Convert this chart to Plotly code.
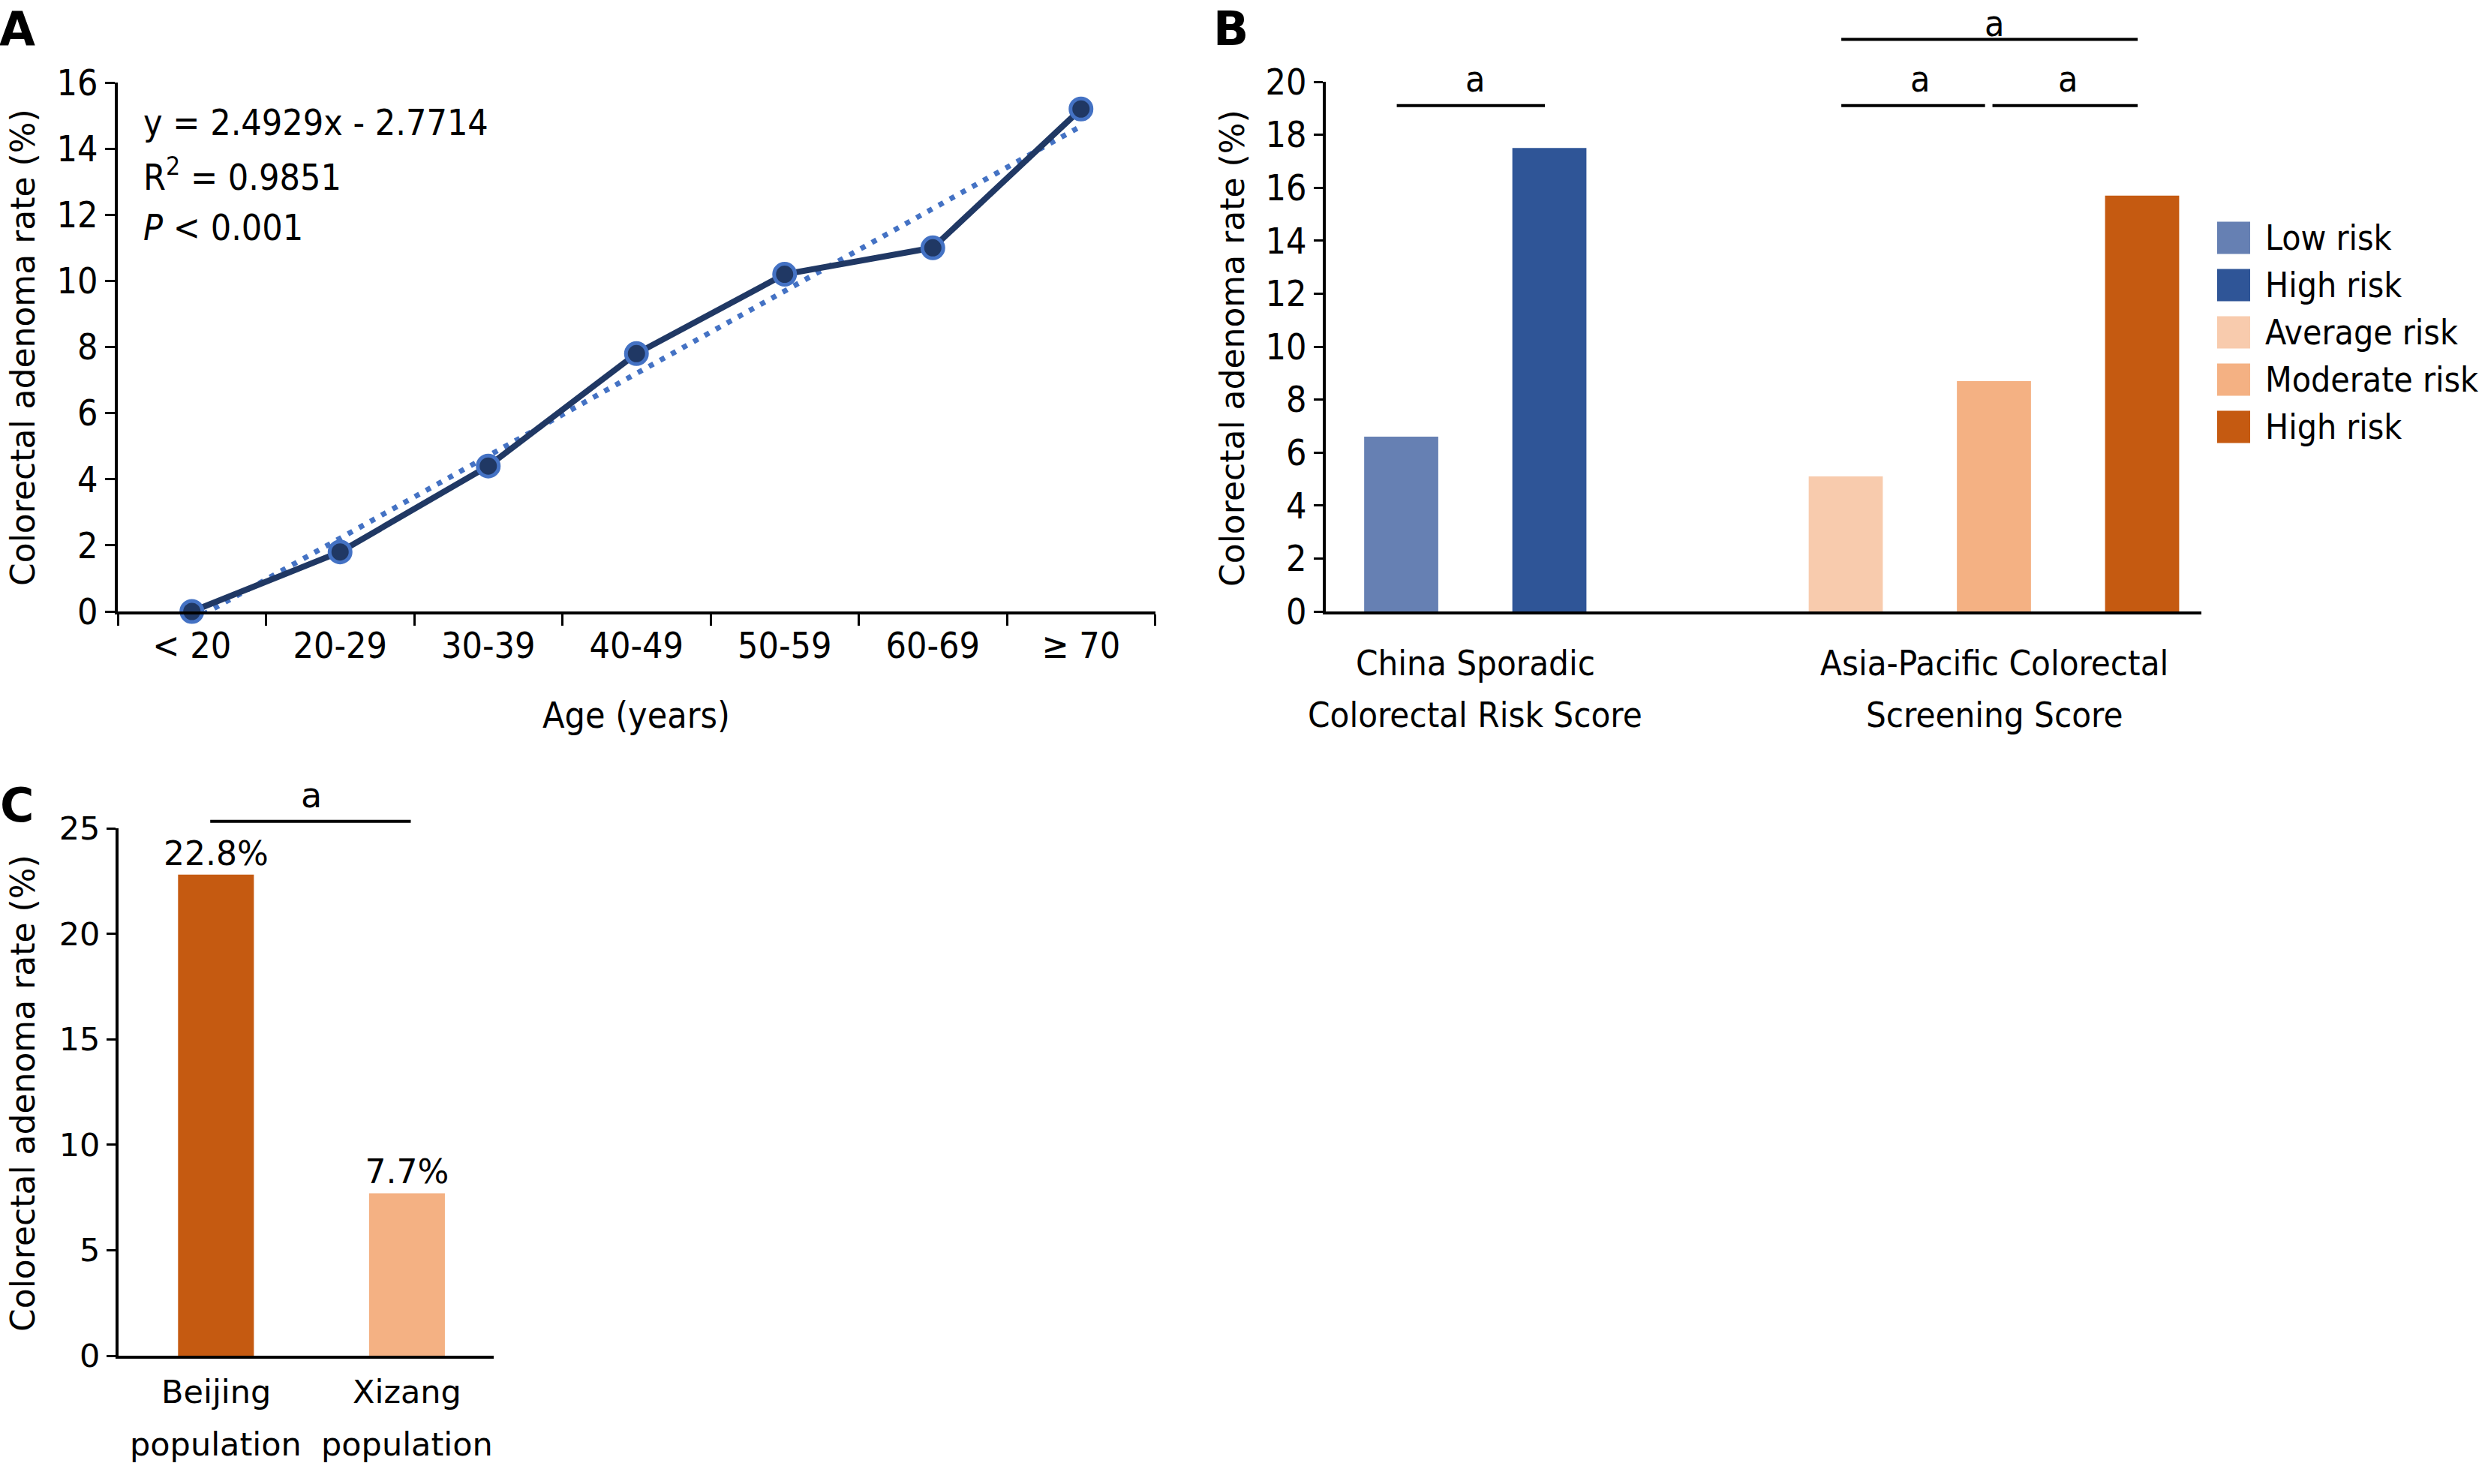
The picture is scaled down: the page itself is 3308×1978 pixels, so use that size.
import numpy as np
import plotly.graph_objects as go

W, H = 3308, 1978

# ---------------- data ----------------
age_groups = ["< 20", "20-29", "30-39", "40-49", "50-59", "60-69", "≥ 70"]
age_rates = [0.0, 1.8, 4.4, 7.8, 10.2, 11.0, 15.2]
fit_lines = ["y = 2.4929x - 2.7714", "R<sup>2</sup> = 0.9851", "<i>P</i> &lt; 0.001"]

score_groups = [["China Sporadic", "Colorectal Risk Score"],
                ["Asia-Pacific Colorectal", "Screening Score"]]
risk_labels = ["Low risk", "High risk", "Average risk", "Moderate risk", "High risk"]
risk_group = [0, 0, 1, 1, 1]
risk_rates = [6.6, 17.5, 5.1, 8.7, 15.7]
risk_colors = ["#6680B3", "#2F5597", "#F8CBAD", "#F4B183", "#C55A11"]
# significance brackets: (left bar index, right bar index, level)
risk_brackets = [(0, 1, 0), (2, 3, 0), (3, 4, 0), (2, 4, 1)]

pop_labels = [["Beijing", "population"], ["Xizang", "population"]]
pop_rates = [22.8, 7.7]
pop_colors = ["#C55A11", "#F4B183"]
pop_brackets = [(0, 1)]

# ---------------- helpers ----------------
def px(x):
    return x / W

def py(y):
    return 1 - y / H

TAH = "DejaVu Sans Condensed, DejaVu Sans, sans-serif"
VER = "DejaVu Sans, sans-serif"
BLACK = "#000000"

# domains (pixel boxes)
A_X = (157, 1539.5); A_Y = (815, 110)
B_X = (1767, 2934);  B_Y = (815, 109)
C_X = (158, 658);    C_Y = (1807, 1104)

A_YMAX, B_YMAX, C_YMAX = 16, 20, 25
B_RANGE = [-0.509, 5.40]
C_RANGE = [-0.51, 1.454]

def y2paper(v, dom, ymax):
    y0 = py(dom[0]); y1 = py(dom[1])
    return y0 + (v / ymax) * (y1 - y0)

# bar slots in panel B: consecutive within a group, one empty slot between groups
b_slots = [i + g for i, g in enumerate(risk_group)]

fig = go.Figure()

# ---------------- panel A ----------------
xnum = np.arange(1, len(age_rates) + 1)
coef = np.polyfit(xnum, age_rates, 1)
trend = np.polyval(coef, xnum)

fig.add_trace(go.Scatter(
    x=age_groups, y=trend, mode="lines", xaxis="x", yaxis="y",
    line=dict(color="#4472C4", width=7, dash="7px,10px"),
    showlegend=False, hoverinfo="skip"))
fig.add_trace(go.Scatter(
    x=age_groups, y=age_rates, mode="lines+markers", xaxis="x", yaxis="y",
    line=dict(color="#203864", width=8),
    marker=dict(size=28, color="#203864", line=dict(color="#4472C4", width=5)),
    cliponaxis=False, showlegend=False))

# ---------------- panel B ----------------
for i, (lab, val, col) in enumerate(zip(risk_labels, risk_rates, risk_colors)):
    fig.add_trace(go.Bar(
        x=[b_slots[i]], y=[val], width=0.5, name=lab, xaxis="x2", yaxis="y2",
        marker=dict(color=col, line=dict(width=0)), showlegend=False))

# ---------------- panel C ----------------
fig.add_trace(go.Bar(
    x=[0, 1], y=pop_rates, width=0.397, xaxis="x3", yaxis="y3",
    marker=dict(color=pop_colors, line=dict(width=0)),
    text=[f"{v:.1f}%" for v in pop_rates], textposition="outside",
    constraintext="none", cliponaxis=False,
    textfont=dict(family=VER, size=44, color=BLACK),
    showlegend=False))

axis_common = dict(showgrid=False, zeroline=False, showline=True, linecolor=BLACK,
                   linewidth=4, ticks="outside", tickcolor=BLACK, tickwidth=3,
                   fixedrange=True, automargin=False)

layout = dict(
    template="none",
    width=W, height=H, margin=dict(l=0, r=0, t=0, b=0, pad=0, autoexpand=False),
    paper_bgcolor="white", plot_bgcolor="white", barmode="overlay",
    showlegend=False,
    xaxis=dict(domain=[px(A_X[0]), px(A_X[1])], anchor="y", type="category",
               categoryorder="array", categoryarray=age_groups,
               range=[-0.5, len(age_groups) - 0.5], tickson="boundaries",
               ticklen=15, tickfont=dict(family=TAH, size=48, color=BLACK),
               **axis_common),
    yaxis=dict(domain=[py(A_Y[0]), py(A_Y[1])], anchor="x", range=[0, A_YMAX],
               dtick=2, ticklen=13, tickfont=dict(family=TAH, size=48, color=BLACK),
               **axis_common),
    xaxis2=dict(domain=[px(B_X[0]), px(B_X[1])], anchor="y2", range=B_RANGE,
                showticklabels=False, **{**axis_common, "ticks": ""}),
    yaxis2=dict(domain=[py(B_Y[0]), py(B_Y[1])], anchor="x2", range=[0, B_YMAX],
                dtick=2, ticklen=12, tickfont=dict(family=TAH, size=48, color=BLACK),
                **axis_common),
    xaxis3=dict(domain=[px(C_X[0]), px(C_X[1])], anchor="y3", range=C_RANGE,
                showticklabels=False, **{**axis_common, "ticks": ""}),
    yaxis3=dict(domain=[py(C_Y[0]), py(C_Y[1])], anchor="x3", range=[0, C_YMAX],
                dtick=5, ticklen=12, tickfont=dict(family=VER, size=43, color=BLACK),
                **axis_common),
)

ann = []
shapes = []

def text(x, y, s, size, family=TAH, xref="paper", xanchor="center", angle=0,
         yanchor="middle"):
    ann.append(dict(x=x, y=y, xref=xref, yref="paper", text=s, showarrow=False,
                    xanchor=xanchor, yanchor=yanchor, textangle=angle, borderpad=0,
                    font=dict(family=family, size=size, color=BLACK)))

# panel letters
text(px(23), py(1), "<b>A</b>", 62, VER, yanchor="top")
text(px(1640), py(1), "<b>B</b>", 62, VER, yanchor="top")
text(px(23), py(1073), "<b>C</b>", 62, VER)

# axis titles
YT = "Colorectal adenoma rate (%)"
text(px(30), py(463), YT, 44, VER, angle=-90)
text(px(1642), py(464), YT, 44, VER, angle=-90)
text(px(30), py(1457), YT, 44, VER, angle=-90)
text(px(848), py(953), "Age (years)", 48, TAH)

# regression text
for k, s in enumerate(fit_lines):
    text(px(190), py(163 + 70 * k), s, 48, TAH, xanchor="left")

# panel B group labels
for g, lines in enumerate(score_groups):
    slots = [b_slots[i] for i in range(len(risk_group)) if risk_group[i] == g]
    xc = float(np.mean(slots))
    for k, s in enumerate(lines):
        text(xc, py(884 + 68 * k), s, 47, TAH, xref="x2")

# panel B significance brackets
B_LEVELS = [19.1, 21.6]
for (l, r, lev) in risk_brackets:
    x0 = b_slots[l] - 0.03
    x1 = b_slots[r] - 0.03
    if any(bb[0] == r and bb[2] == lev for bb in risk_brackets):
        x1 -= 0.03
    if any(bb[1] == l and bb[2] == lev for bb in risk_brackets):
        x0 += 0.02
    yv = y2paper(B_LEVELS[lev], B_Y, B_YMAX)
    shapes.append(dict(type="line", xref="x2", yref="paper", x0=x0, x1=x1,
                       y0=yv, y1=yv, line=dict(color=BLACK, width=4)))
    if lev == 0:
        text((b_slots[l] + b_slots[r]) / 2, y2paper(B_LEVELS[lev] + 1.0, B_Y, B_YMAX),
             "a", 48, TAH, xref="x2")
    else:
        text((b_slots[l] + b_slots[r]) / 2, py(2), "a", 48, TAH, xref="x2",
             yanchor="top")

# panel B legend (drawn manually)
for i, (lab, col) in enumerate(zip(risk_labels, risk_colors)):
    yc = 317 + 63 * i
    shapes.append(dict(type="rect", xref="paper", yref="paper",
                       x0=px(2955), x1=px(2999), y0=py(yc + 21.5), y1=py(yc - 21.5),
                       fillcolor=col, line=dict(width=0)))
    text(px(3018), py(yc), lab, 46, TAH, xanchor="left")

# panel C category labels
for i, lines in enumerate(pop_labels):
    for k, s in enumerate(lines):
        text(i, py(1855 + 70 * k), s, 43, VER, xref="x3")

# panel C significance bracket
for (l, r) in pop_brackets:
    yv = y2paper(25.33, C_Y, C_YMAX)
    shapes.append(dict(type="line", xref="x3", yref="paper", x0=l - 0.03, x1=r + 0.02,
                       y0=yv, y1=yv, line=dict(color=BLACK, width=4)))
    text((l + r) / 2, y2paper(26.55, C_Y, C_YMAX), "a", 46, VER, xref="x3")

layout["annotations"] = ann
layout["shapes"] = shapes
fig.update_layout(**layout)

fig.write_html("out.html", config={"displayModeBar": False},
               post_script="document.body.style.margin='0px';")
